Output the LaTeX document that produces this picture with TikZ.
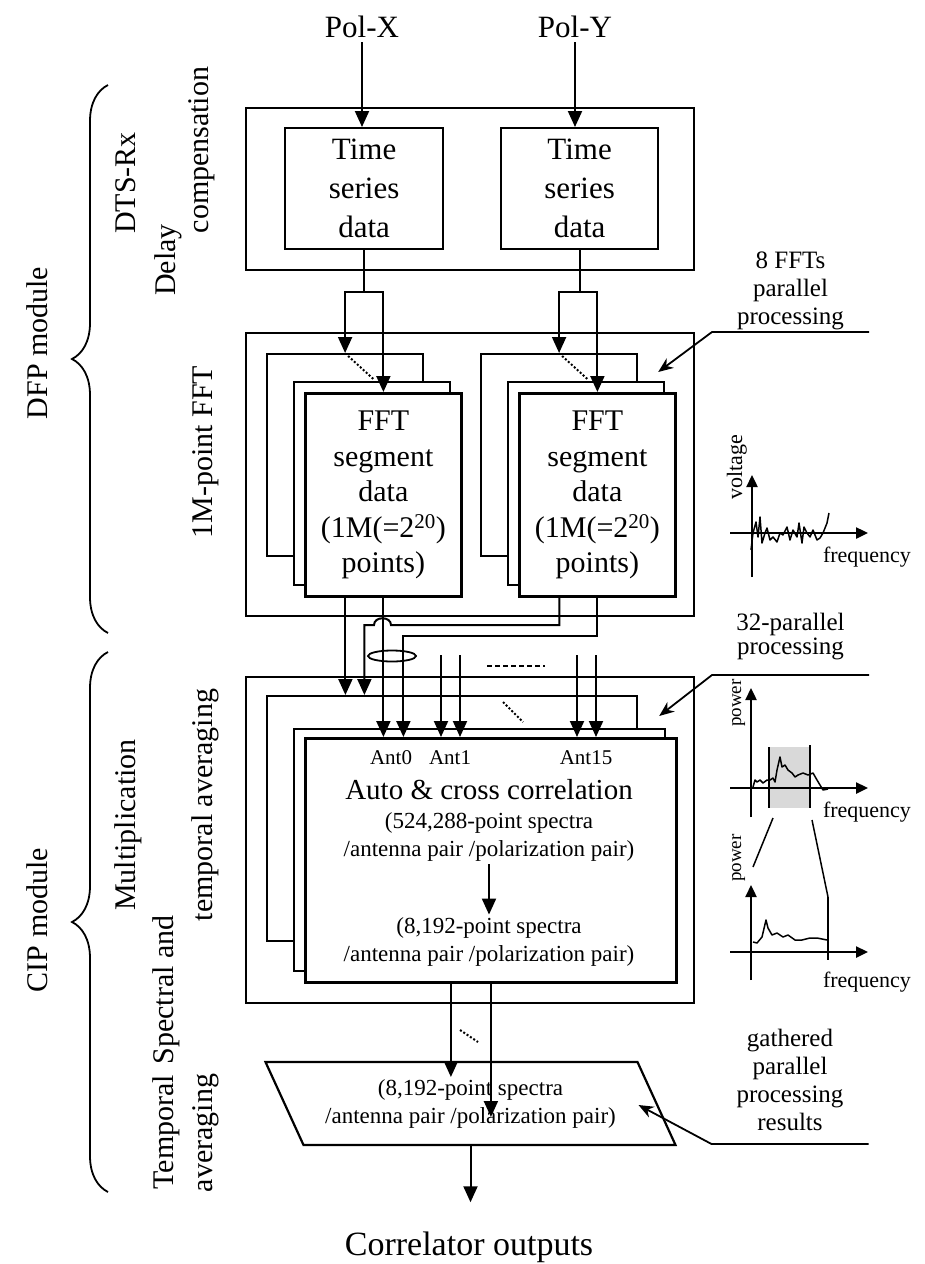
\documentclass[tikz,border=0pt]{standalone}
\usepackage{fontspec}
\setmainfont{Liberation Serif}
\usetikzlibrary{arrows.meta,shapes.geometric,decorations.pathreplacing}

\tikzset{
  box/.style={draw, line width=2.2pt, fill=white, anchor=north west, inner sep=0pt, align=center},
  frontbox/.style={box, line width=2.8pt},
  arr/.style={-{Triangle[length=16pt,width=14pt]}, line width=2pt},
  leader/.style={-{Stealth[length=15pt,width=12pt]}, line width=1.8pt},
  plotaxis/.style={-{Triangle[length=12pt,width=11pt]}, line width=2.4pt},
  curve/.style={line width=1.5pt, line join=round},
  bigtext/.style={font=\fontsize{31}{39}\selectfont},
  ffttext/.style={font=\fontsize{30}{35.5}\selectfont},
  sidetext/.style={font=\fontsize{30}{36}\selectfont, rotate=90, anchor=base, inner sep=0pt},
  notetext/.style={font=\fontsize{25}{28}\selectfont, align=center, anchor=south, minimum width=155pt, inner xsep=0pt},
  anttext/.style={font=\fontsize{21}{24}\selectfont, inner sep=1pt},
  spectext/.style={font=\fontsize{23}{28}\selectfont, align=center, inner sep=2pt},
  plottext/.style={font=\fontsize{22}{24}\selectfont, inner sep=0pt},
  modbrace/.style={decorate, decoration={brace, amplitude=36pt}, line width=1.8pt},
}

\begin{document}
\begin{tikzpicture}[x=1pt, y=-1pt, line width=2pt]
  \useasboundingbox (0,0) rectangle (924,1264);

  % module braces and stage labels
  \draw[modbrace] (108,633) -- (108,85);
  \draw[modbrace] (108,1192) -- (108,652);
  \node[sidetext] (dfp) at (47,343) {DFP module};
  \node[sidetext] (cipmod) at (47,920) {CIP module};
  \node[sidetext] (dtsrx) at (135,183) {DTS-Rx};
  \node[sidetext] (delay) at (175,260) {Delay};
  \node[sidetext] (comp) at (208,150) {compensation};
  \node[sidetext] (fftlbl) at (212,452) {1M-point FFT};
  \node[sidetext] (mult) at (135,825) {Multiplication};
  \node[sidetext] (spectral) at (173,990) {Spectral and};
  \node[sidetext] (tempavg) at (212,805) {temporal averaging};
  \node[sidetext] (temporal) at (173,1132) {Temporal};
  \node[sidetext] (averaging) at (212,1133) {averaging};

  % inputs and delay compensation
  \node[bigtext] (polx) at (362,27) {Pol-X};
  \node[bigtext] (poly) at (575,27) {Pol-Y};
  \node[box, minimum width=448, minimum height=162] (dts) at (245,107) {};
  \node[box, bigtext, minimum width=158, minimum height=121] (tsx) at (284,127) {Time\\series\\data};
  \node[box, bigtext, minimum width=157, minimum height=121] (tsy) at (500,127) {Time\\series\\data};
  \draw[arr] (polx) -- (polx |- tsx.north);
  \draw[arr] (poly) -- (poly |- tsy.north);

  % 1M-point FFT, stacked
  \node[box, minimum width=448, minimum height=283] (fft) at (245,332) {};
  \foreach \p/\dx in {x/0, y/214} {
    \node[box, minimum width=156, minimum height=202] (fft\p back) at (266+\dx,353) {};
    \node[box, minimum width=156, minimum height=203] (fft\p mid) at (293+\dx,381) {};
    \node[frontbox, ffttext, minimum width=156, minimum height=203] (fft\p front) at (304+\dx,392)
      {FFT\\segment\\data\\(1M(=2\textsuperscript{20})\\points)};
    \draw (ts\p.south) -- ++(0,42) coordinate (split\p);
    \draw[arr] (split\p) -| (fft\p back.north);
    \draw[arr] (split\p) -| (fft\p front.north);
    \draw[dotted] ([xshift=3,yshift=-3]fft\p back.north) -- ([xshift=-10,yshift=13]fft\p front.north);
  }

  % correlator, stacked
  \node[box, minimum width=448, minimum height=326] (cip) at (245,676) {};
  \node[box, minimum width=370, minimum height=245] (cipback) at (266,695) {};
  \node[box, minimum width=371, minimum height=242] (cipmid) at (293,728) {};
  \node[frontbox, minimum width=371, minimum height=244] (cipfront) at (304,737) {};

  % FFT outputs into the correlator
  \coordinate (ox1) at ([xshift=-38]fftxfront.south);
  \coordinate (ox2) at ([xshift=-19]fftxfront.south);
  \coordinate (ox3) at ([xshift=20]fftxfront.south);
  \coordinate (oy1) at ([xshift=-38]fftyfront.south);
  \draw[arr] (ox1) -- (ox1 |- cipback.north);
  \draw[arr] (fftxfront.south) -- (fftxfront.south |- cipfront.north);
  \draw[arr] (oy1) |- (391,625) .. controls (391,616) and (374,616) .. (374,625) -| (ox2 |- cipback.north);
  \draw[arr] (fftyfront.south) -- ++(0,38) -| (ox3 |- cipfront.north);
  \node[draw, ellipse, line width=1.8pt, minimum width=48, minimum height=11, inner sep=0pt] (ant0pair) at (392,656) {};
  \foreach \x in {441,460,577,596} {
    \coordinate (in\x) at (\x,655);
    \draw[arr] (in\x) -- (in\x |- cipfront.north);
  }
  \draw[dash pattern=on 5pt off 3pt, line width=1.6pt] (487,666) -- (545,666);
  \draw[dotted] (503,702) -- (523,722);

  \node[anttext] (ant0) at (391,758) {Ant0};
  \node[anttext] (ant1) at (450,758) {Ant1};
  \node[anttext] (ant15) at (586,758) {Ant15};
  \node[font=\fontsize{29}{34}\selectfont, inner sep=1pt] (acc) at (489,790) {Auto \& cross correlation};
  \node[spectext] (spec1) at (489,837) {(524,288-point spectra\\/antenna pair /polarization pair)};
  \node[spectext] (spec2) at (489,942) {(8,192-point spectra\\/antenna pair /polarization pair)};
  \draw[arr] (spec1) -- (spec2);

  % temporal averaging and output
  \node[spectext, minimum width=370, minimum height=81] (avg) at (470.5,1103.5)
    {(8,192-point spectra\\/antenna pair /polarization pair)};
  \draw[line width=2.2pt] ([xshift=-19]avg.north west) -- ([xshift=-19]avg.north east)
    -- ([xshift=19]avg.south east) -- ([xshift=19]avg.south west) -- cycle;
  \coordinate (oc1) at ([xshift=-40]cipfront.south);
  \draw[arr, shorten >=-15pt] (oc1) -- (oc1 |- avg.north);
  \draw[arr, shorten >=-13.5pt] (cipfront.south) -- (cipfront.south |- avg.center);
  \draw[dotted] (460,1030) -- (478,1042);
  \node[font=\fontsize{34}{40}\selectfont] (out) at (469,1247) {Correlator outputs};
  \draw[arr, shorten >=25pt] (avg.south) -- (avg.south |- out.north);

  % notes
  \node[notetext, inner ysep=1.5pt] (note8) at (790.5,332) {8 FFTs\\parallel\\processing};
  \node[notetext, inner ysep=14pt, font=\fontsize{25}{24}\selectfont] (note32) at (790.5,675) {32-parallel\\processing};
  \node[notetext, inner ysep=12pt] (notegat) at (790,1144) {gathered\\parallel\\processing\\results};
  \draw[leader] (note8.south east) -- (note8.south west) -- ([xshift=-7,yshift=9]fftymid.north east);
  \draw[leader] (note32.south east) -- (note32.south west) -- ([xshift=-7,yshift=12]cipmid.north east);
  \draw[leader] (notegat.south east) -- (notegat.south west) -- ([xshift=-18,yshift=-1.5]avg.east);

  % voltage sketch
  \draw[plotaxis] (730,533) -- (868,533);
  \draw[plotaxis] (752,577) -- (752,475);
  \node[plottext, rotate=90, anchor=base] (volt) at (742,467) {voltage};
  \node[plottext, anchor=base west] (freq1) at (822,562) {frequency};
  \draw[curve] plot coordinates {(751,550) (753,533) (756,522) (758,537) (760,517) (762,543)
    (765,533) (767,528) (770,540) (773,537) (777,542) (780,533) (783,535) (787,527) (790,540)
    (793,530) (797,537) (799,523) (802,543) (804,527) (807,533) (810,537) (813,530) (817,540)
    (820,538) (823,533) (827,523) (829,513)};

  % power sketches
  \fill[gray!30] (769,747) rectangle (810,808);
  \draw[line width=1.5pt] (769,747) -- (769,808) (810,745) -- (810,808);
  \draw[plotaxis] (730,788) -- (868,788);
  \draw[plotaxis] (751,817) -- (751,688);
  \node[plottext, rotate=90, anchor=base, font=\fontsize{19}{20}\selectfont] (pow1) at (741,703) {power};
  \node[plottext, anchor=base west] (freq2) at (822,817) {frequency};
  \draw[curve] plot coordinates {(753,787) (755,780) (757,782) (760,780) (763,783) (767,780)
    (770,780) (773,778) (775,782) (777,770) (780,757) (782,767) (785,765) (788,770) (792,773)
    (795,777) (798,775) (803,773) (808,775) (813,773) (817,780) (820,785) (823,790) (828,789)};
  \draw[line width=1.5pt] (773,818) -- (753,867) (812,820) -- (828,897);
  \draw[plotaxis] (730,952) -- (868,952);
  \draw[plotaxis] (751,980) -- (751,885);
  \draw[line width=1.5pt] (828,897) -- (828,960);
  \node[plottext, rotate=90, anchor=base, font=\fontsize{19}{20}\selectfont] (pow2) at (741,858) {power};
  \node[plottext, anchor=base west] (freq3) at (822,987) {frequency};
  \draw[curve] plot coordinates {(753,942) (757,943) (762,937) (766,920) (768,928) (772,935)
    (777,933) (783,937) (788,935) (795,940) (802,940) (810,938) (817,938) (827,940)};
\end{tikzpicture}
\end{document}
